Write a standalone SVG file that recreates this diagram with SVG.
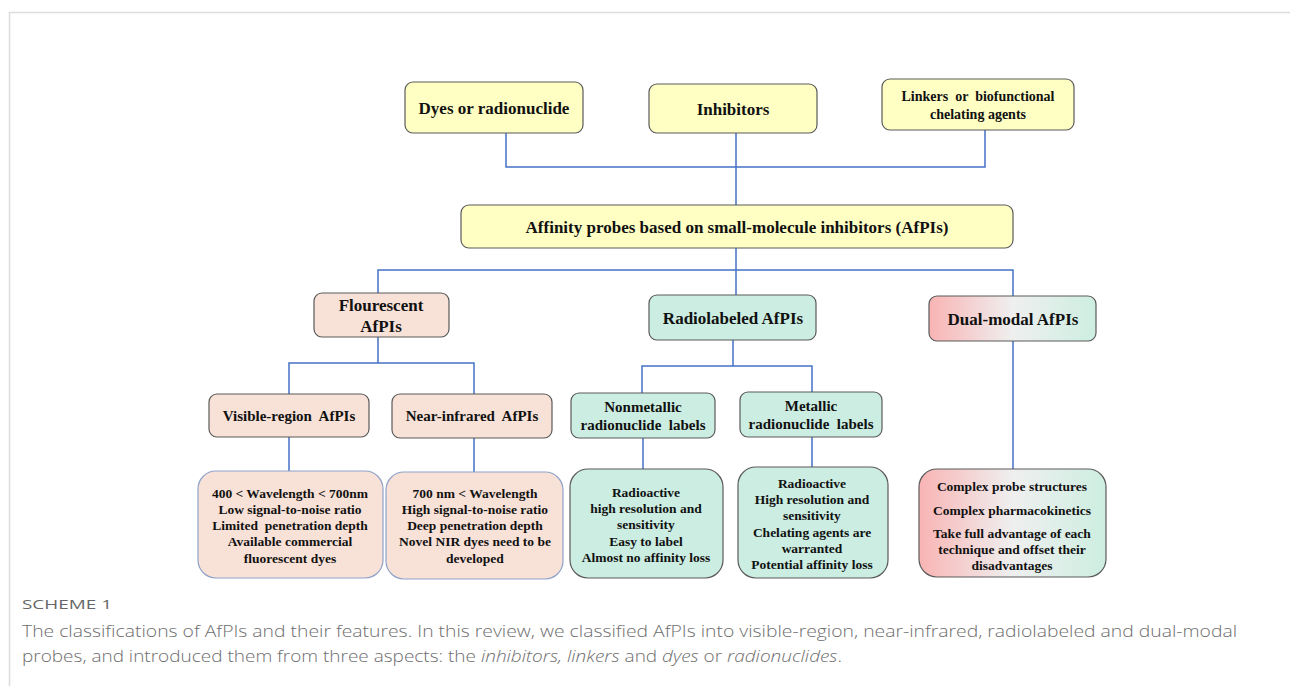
<svg xmlns="http://www.w3.org/2000/svg" width="1290" height="686" viewBox="0 0 1290 686">
<defs>
<linearGradient id="dual" x1="0" y1="0" x2="1" y2="0">
<stop offset="0" stop-color="#f9b4b4"/>
<stop offset="0.5" stop-color="#efefef"/>
<stop offset="1" stop-color="#cdeee1"/>
</linearGradient>
<style>
.frame{stroke:#dcdcdc;stroke-width:1.5;fill:none}
.con{stroke:#4472c4;stroke-width:1.5;fill:none}
.y{fill:#ffffc4;stroke:#5a5a5a;stroke-width:1.2}
.p{fill:#f8e1d7;stroke:#5a5a5a;stroke-width:1.2}
.pb{fill:#f8e1d7;stroke:#8fa2c9;stroke-width:1.2}
.g{fill:#ccede1;stroke:#5a5a5a;stroke-width:1.2}
.d{fill:url(#dual);stroke:#5a5a5a;stroke-width:1.2}
text{font-family:"Liberation Serif","Times New Roman",serif;font-weight:bold;fill:#111;text-anchor:middle;white-space:pre}
.t17{font-size:17px}
.t15{font-size:15px}
.t14{font-size:14px}
.t13{font-size:13.5px}
.cap{font-family:"Open Sans",Lato,sans-serif;font-weight:300;fill:#6e6e6e;text-anchor:start}
.sch{font-family:"Open Sans",Lato,sans-serif;font-weight:normal;fill:#666;text-anchor:start}
</style>
</defs>
<rect width="1290" height="686" fill="#fff"/>
<path class="frame" d="M9.5 686V12.5H1290"/>
<g id="connectors">
<path class="con" d="M506 133V167H985V130M736 133V205M736 248V270M378 293V270H1013V296M736 270V295"/>
<path class="con" d="M378 337V363M289 394V363H474V394M733 340V366M642 393V366H812V392"/>
<path class="con" d="M289 437V471M474 438V472M643 438V469M812 437V467M1013 341V469"/>
</g>
<g id="n-dyes"><rect class="y" x="405" y="82" width="178" height="51" rx="8"/><text class="t17" x="494" y="114">Dyes or radionuclide</text></g>
<g id="n-inhibitors"><rect class="y" x="649" y="84" width="168" height="49" rx="8"/><text class="t17" x="733" y="115">Inhibitors</text></g>
<g id="n-linkers"><rect class="y" x="882" y="79" width="192" height="51" rx="8"/><text class="t14" x="978" y="101">Linkers  or  biofunctional</text><text class="t14" x="978" y="119">chelating agents</text></g>
<g id="n-afpi"><rect class="y" x="461" y="205" width="552" height="43" rx="8"/><text class="t17" x="737" y="233">Affinity probes based on small-molecule inhibitors (AfPIs)</text></g>
<g id="n-flour"><rect class="p" x="314" y="293" width="135" height="44" rx="8"/><text class="t17" x="381" y="311">Flourescent</text><text class="t17" x="381" y="332">AfPIs</text></g>
<g id="n-radio"><rect class="g" x="649" y="295" width="167" height="45" rx="8"/><text class="t17" x="733" y="324">Radiolabeled AfPIs</text></g>
<g id="n-dual"><rect class="d" x="929" y="296" width="167" height="45" rx="8"/><text class="t17" x="1013" y="325">Dual-modal AfPIs</text></g>
<g id="n-visible"><rect class="p" x="209" y="394" width="160" height="43" rx="8"/><text class="t15" x="289" y="421">Visible-region  AfPIs</text></g>
<g id="n-nir"><rect class="p" x="392" y="394" width="160" height="44" rx="8"/><text class="t15" x="472" y="421">Near-infrared  AfPIs</text></g>
<g id="n-nonmetal"><rect class="g" x="571" y="393" width="144" height="45" rx="8"/><text class="t15" x="643" y="412">Nonmetallic</text><text class="t15" x="643" y="430">radionuclide  labels</text></g>
<g id="n-metal"><rect class="g" x="740" y="392" width="142" height="45" rx="8"/><text class="t15" x="811" y="411">Metallic</text><text class="t15" x="811" y="429">radionuclide  labels</text></g>
<g id="n-visible-f"><rect class="pb" x="198" y="471" width="185" height="107" rx="18"/>
<text class="t13" x="290" y="498">400 &lt; Wavelength &lt; 700nm</text>
<text class="t13" x="290" y="514">Low signal-to-noise ratio</text>
<text class="t13" x="290" y="530">Limited  penetration depth</text>
<text class="t13" x="290" y="546">Available commercial</text>
<text class="t13" x="290" y="563">fluorescent dyes</text></g>
<g id="n-nir-f"><rect class="pb" x="386" y="472" width="177" height="107" rx="18"/>
<text class="t13" x="475" y="498">700 nm &lt; Wavelength</text>
<text class="t13" x="475" y="514">High signal-to-noise ratio</text>
<text class="t13" x="475" y="530">Deep penetration depth</text>
<text class="t13" x="475" y="546">Novel NIR dyes need to be</text>
<text class="t13" x="475" y="563">developed</text></g>
<g id="n-nonmetal-f"><rect class="g" x="570" y="469" width="153" height="109" rx="18"/>
<text class="t13" x="646" y="497">Radioactive</text>
<text class="t13" x="646" y="513">high resolution and</text>
<text class="t13" x="646" y="529">sensitivity</text>
<text class="t13" x="646" y="546">Easy to label</text>
<text class="t13" x="646" y="562">Almost no affinity loss</text></g>
<g id="n-metal-f"><rect class="g" x="738" y="467" width="150" height="111" rx="18"/>
<text class="t13" x="812" y="488">Radioactive</text>
<text class="t13" x="812" y="504">High resolution and</text>
<text class="t13" x="812" y="520">sensitivity</text>
<text class="t13" x="812" y="537">Chelating agents are</text>
<text class="t13" x="812" y="553">warranted</text>
<text class="t13" x="812" y="569">Potential affinity loss</text></g>
<g id="n-dual-f"><rect class="d" x="919" y="469" width="187" height="108" rx="18"/>
<text class="t13" x="1012" y="491">Complex probe structures</text>
<text class="t13" x="1012" y="515">Complex pharmacokinetics</text>
<text class="t13" x="1012" y="538">Take full advantage of each</text>
<text class="t13" x="1012" y="554">technique and offset their</text>
<text class="t13" x="1012" y="570">disadvantages</text></g>
<g id="caption">
<text class="sch" x="22" y="609" font-size="13" textLength="90" lengthAdjust="spacingAndGlyphs">SCHEME 1</text>
<text class="cap" x="22" y="637" font-size="16.5" textLength="1215" lengthAdjust="spacingAndGlyphs">The classifications of AfPIs and their features. In this review, we classified AfPIs into visible-region, near-infrared, radiolabeled and dual-modal</text>
<text class="cap" x="22" y="662" font-size="16.5" textLength="820" lengthAdjust="spacingAndGlyphs">probes, and introduced them from three aspects: the <tspan font-style="italic">inhibitors, linkers</tspan> and <tspan font-style="italic">dyes</tspan> or <tspan font-style="italic">radionuclides</tspan>.</text>
</g>
</svg>
